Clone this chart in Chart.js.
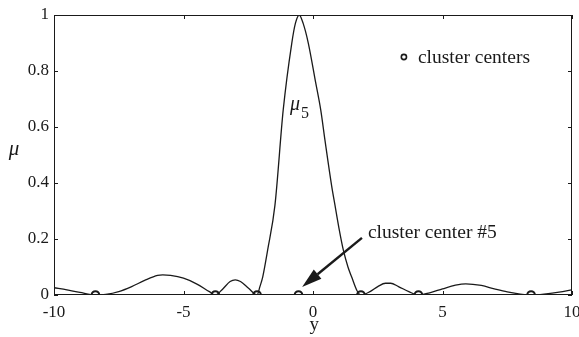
<!DOCTYPE html>
<html><head><meta charset="utf-8">
<script src="https://cdn.jsdelivr.net/npm/chart.js@4.4.0/dist/chart.umd.min.js"></script>
<style>html,body{margin:0;padding:0;background:#fff;}canvas{display:block;}</style>
</head><body>
<canvas id="c" width="579" height="337"></canvas>
<script>
// membership curve mu_5
const curveX  = [-10, -9.5, -9.0, -8.4, -8.0, -7.5, -7.0, -6.5, -6.0, -5.8, -5.5, -5.0, -4.5, -4.0, -3.77, -3.5, -3.2, -3.0, -2.8, -2.5, -2.16, -2.05, -1.94, -1.75, -1.47, -1.15, -0.82, -0.68, -0.53, -0.38, -0.18, 0.1, 0.3, 0.46, 0.72, 0.85, 1.0, 1.17, 1.35, 1.49, 1.7, 1.85, 2.2, 2.5, 2.8, 3.0, 3.3, 3.7, 4.07, 4.5, 5.0, 5.5, 5.9, 6.5, 7.0, 7.5, 8.0, 8.42, 9.0, 9.5, 10];
const curveMu = [0.026, 0.018, 0.009, 0.0, 0.002, 0.012, 0.030, 0.052, 0.070, 0.072, 0.070, 0.060, 0.040, 0.012, 0.0, 0.020, 0.048, 0.054, 0.048, 0.025, 0.0, 0.030, 0.065, 0.161, 0.32, 0.661, 0.899, 0.97, 1.0, 0.97, 0.899, 0.76, 0.66, 0.554, 0.39, 0.32, 0.24, 0.161, 0.10, 0.065, 0.015, 0.0, 0.012, 0.030, 0.042, 0.042, 0.030, 0.012, 0.0, 0.008, 0.022, 0.035, 0.040, 0.034, 0.022, 0.011, 0.003, 0.0, 0.004, 0.010, 0.018];
// cluster centers
const centerX  = [-8.4, -3.77, -2.16, -0.56, 1.85, 4.07, 8.42];
const centerMu = [0, 0, 0, 0, 0, 0, 0];
// tick labels
const xTicks = [-10, -5, 0, 5, 10];
const yTicks = [0, 0.2, 0.4, 0.6, 0.8, 1];
const legendText = 'cluster centers';
const curveName = 'μ';
const curveSub = '5';
const arrowText = 'cluster center #5';
const xTitle = 'y';
const yTitle = 'μ';

const INK = '#1a1a1a';
const SERIF = '"Liberation Serif", "DejaVu Serif", serif';

const curveData = curveX.map((v, i) => ({x: v, y: curveMu[i]}));
const centerData = centerX.map((v, i) => ({x: v, y: centerMu[i]}));

const decor = {
  id: 'decor',
  afterDatasetsDraw(chart) {
    const {ctx, chartArea: a, scales: {x, y}} = chart;
    ctx.save();
    ctx.strokeStyle = INK; ctx.lineWidth = 1;
    ctx.strokeRect(Math.round(a.left) + 0.5, Math.round(a.top) + 0.5, Math.round(a.right - a.left) - 1, Math.round(a.bottom - a.top) - 1);
    const L = 4;
    ctx.beginPath();
    xTicks.forEach(v => {
      const px = Math.round(x.getPixelForValue(v)) + 0.5;
      ctx.moveTo(px, a.bottom); ctx.lineTo(px, a.bottom - L);
      ctx.moveTo(px, a.top); ctx.lineTo(px, a.top + L);
    });
    yTicks.forEach(v => {
      const py = Math.round(y.getPixelForValue(v)) + 0.5;
      ctx.moveTo(a.left, py); ctx.lineTo(a.left + L, py);
      ctx.moveTo(a.right, py); ctx.lineTo(a.right - L, py);
    });
    ctx.stroke();

    ctx.fillStyle = INK;
    // legend
    const lx = x.getPixelForValue(3.51), ly = y.getPixelForValue(0.85);
    ctx.beginPath(); ctx.arc(lx, ly, 2.6, 0, Math.PI * 2);
    ctx.fillStyle = '#fff'; ctx.fill(); ctx.lineWidth = 1.6; ctx.strokeStyle = INK; ctx.stroke();
    ctx.fillStyle = INK;
    ctx.font = '19.5px ' + SERIF; ctx.textBaseline = 'alphabetic'; ctx.textAlign = 'left';
    ctx.fillText(legendText, lx + 14, ly + 6);

    // mu_5 label
    const mx = x.getPixelForValue(-0.89), my = y.getPixelForValue(0.66);
    ctx.font = 'italic 20px ' + SERIF;
    ctx.fillText(curveName, mx, my);
    const w = ctx.measureText(curveName).width;
    ctx.font = '16px ' + SERIF;
    ctx.fillText(curveSub, mx + w + 1, my + 8);

    // arrow annotation
    const tx = x.getPixelForValue(2.12), ty = y.getPixelForValue(0.204);
    ctx.font = '19.5px ' + SERIF;
    ctx.fillText(arrowText, tx, ty);
    const x1 = x.getPixelForValue(1.89), y1 = y.getPixelForValue(0.204);
    const x2 = x.getPixelForValue(-0.42), y2 = y.getPixelForValue(0.029);
    const ang = Math.atan2(y2 - y1, x2 - x1);
    const hl = 20, hw = 6;
    const bx = x2 - hl * Math.cos(ang), by = y2 - hl * Math.sin(ang);
    ctx.lineWidth = 2.4; ctx.strokeStyle = INK;
    ctx.beginPath(); ctx.moveTo(x1, y1); ctx.lineTo(bx, by); ctx.stroke();
    ctx.beginPath();
    ctx.moveTo(x2, y2);
    ctx.lineTo(bx + hw * Math.sin(ang), by - hw * Math.cos(ang));
    ctx.lineTo(bx - hw * Math.sin(ang), by + hw * Math.cos(ang));
    ctx.closePath(); ctx.fill();

    // axis titles
    ctx.font = 'italic 21px ' + SERIF; ctx.textAlign = 'center';
    ctx.fillText(yTitle, 14, (a.top + a.bottom) / 2);
    ctx.font = '19px ' + SERIF;
    ctx.fillText(xTitle, x.getPixelForValue(0.05), 330);
    ctx.restore();
  }
};

new Chart(document.getElementById('c'), {
  type: 'scatter',
  data: {
    datasets: [
      {label: 'mu5', data: curveData, showLine: true, borderColor: INK, borderWidth: 1.3,
       pointRadius: 0, cubicInterpolationMode: 'monotone', fill: false},
      {label: legendText, data: centerData, showLine: false, pointRadius: 3.8,
       pointBackgroundColor: '#fff', pointBorderColor: INK, pointBorderWidth: 2}
    ]
  },
  options: {
    responsive: false, animation: false, devicePixelRatio: 1,
    layout: {padding: {left: 0, top: 15, right: 7, bottom: 0}},
    plugins: {legend: {display: false}, tooltip: {enabled: false}},
    scales: {
      x: {
        type: 'linear', min: -10, max: 10,
        afterBuildTicks: s => { s.ticks = xTicks.map(v => ({value: v})); },
        afterFit: s => { s.height = 42; s.paddingLeft = 0; s.paddingRight = 0; },
        grid: {display: false, drawTicks: false}, border: {display: false},
        ticks: {color: INK, padding: 7, maxRotation: 0, autoSkip: false, font: {family: SERIF, size: 17},
                callback: v => String(v)}
      },
      y: {
        type: 'linear', min: 0, max: 1,
        afterBuildTicks: s => { s.ticks = yTicks.map(v => ({value: v})); },
        afterFit: s => { s.width = 54; s.paddingTop = 0; s.paddingBottom = 0; },
        grid: {display: false, drawTicks: false}, border: {display: false},
        ticks: {color: INK, padding: 5, autoSkip: false, font: {family: SERIF, size: 17},
                callback: v => String(+v.toFixed(1))}
      }
    }
  },
  plugins: [decor]
});
</script>
</body></html>
